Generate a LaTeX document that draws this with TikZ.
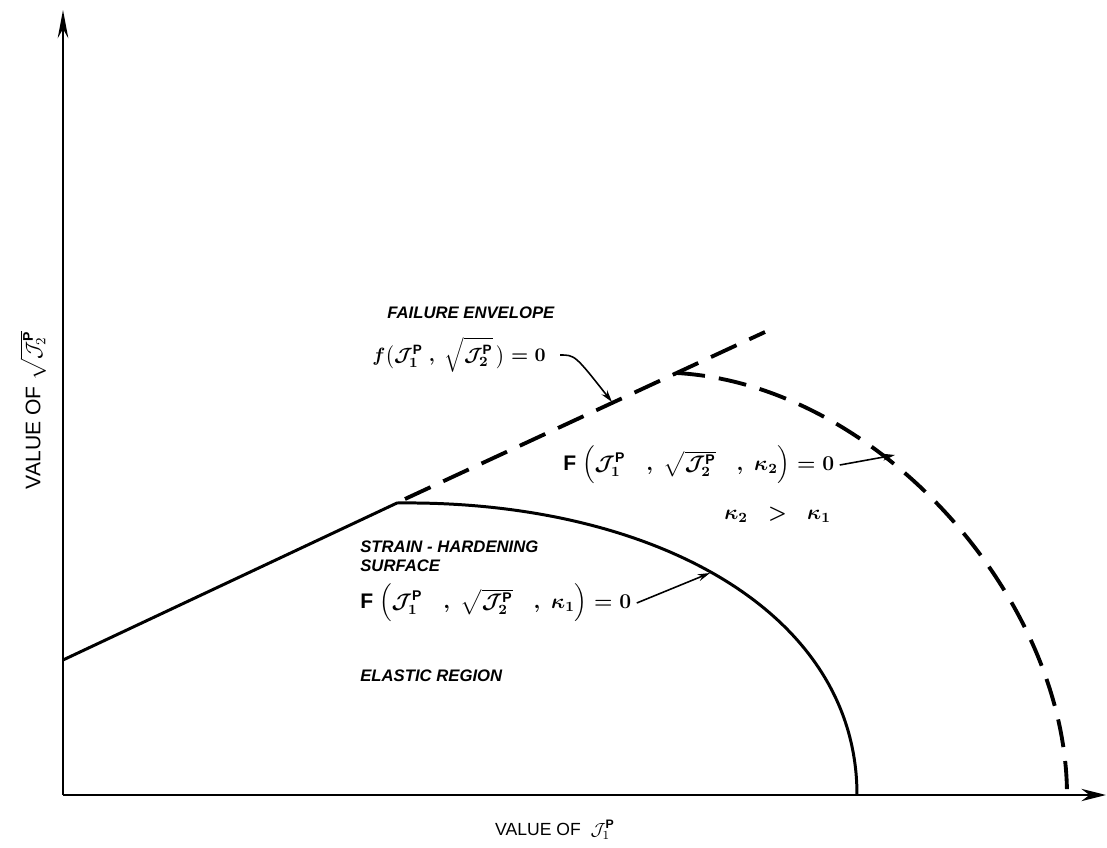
\documentclass[tikz,border=0pt]{standalone}
\usepackage{amsmath}
\usepackage{fontspec}
\setsansfont{Liberation Sans}
\usetikzlibrary{arrows.meta}
\newcommand{\Jc}{\mathcal{J}}
\newcommand{\Pp}{\textsf{\bfseries P}}
\tikzset{
  curve/.style={line width=1.7pt},
  dcurve/.style={line width=2.2pt, dash pattern=on 16pt off 8pt},
  axis/.style={line width=1.3pt},
  lab/.style={font=\sffamily\itshape\bfseries\fontsize{9.5}{12}\selectfont, anchor=west, inner sep=0pt, align=left},
  eq/.style={font=\sffamily\bfseries\boldmath\fontsize{12}{14}\selectfont, anchor=west, inner sep=0pt},
  pointer/.style={line width=0.9pt, -{Stealth[length=7pt,width=4pt]}}
}
\begin{document}
\begin{tikzpicture}[x=0.02cm,y=-0.02cm]
\useasboundingbox (0,0) rectangle (1107,848);
% axes
\coordinate (O) at (63,795);
\coordinate (ytop) at (63,10);
\coordinate (xend) at (1106,795);
\draw[axis,-{Stealth[length=16pt,width=6pt]}] (O) -- (ytop);
\draw[axis,-{Stealth[length=14pt,width=7pt]}] (O) -- (xend);
% solid strain-hardening surface
\coordinate (s0) at (63,660);
\coordinate (s1) at (397,503);
\coordinate (s2) at (857,795);
\draw[curve, line join=round] (s0) -- (s1) .. controls (650,500) and (857,610) .. (s2);
% failure envelope dashed
\coordinate (d0) at (405,499);
\coordinate (dv) at (677,373);
\coordinate (d1) at (765,332);
\draw[dcurve] (d0) -- (d1);
\coordinate (c2) at (1067,795);
\draw[dcurve] (dv) .. controls (880,385) and (1067,600) .. (c2);
% labels
\node[lab] (fe) at (387,313) {FAILURE ENVELOPE};
\node[eq, font=\sffamily\bfseries\boldmath\fontsize{11}{13}\selectfont] (feq) at (372,355) {$f\bigl(\Jc_1^{\Pp}\;,\;\sqrt{\Jc_2^{\Pp}}\,\bigr)=0$};
\node[eq] (f2) at (563,465) {F\;$\Bigl(\Jc_1^{\Pp}\quad,\;\sqrt{\Jc_2^{\Pp}}\quad,\;\kappa_2\Bigr)=0$};
\node[eq] (kk) at (724,515) {$\kappa_2\;\;>\;\;\kappa_1$};
\node[lab] (sh) at (360,556) {STRAIN - HARDENING\\[-1pt]SURFACE};
\node[eq] (f1) at (360,603) {F\;$\Bigl(\Jc_1^{\Pp}\quad,\;\sqrt{\Jc_2^{\Pp}}\quad,\;\kappa_1\Bigr)=0$};
\node[lab] (el) at (360,676) {ELASTIC REGION};
\node[eq, font=\sffamily\fontsize{10}{12}\selectfont, anchor=center] (xl) at (555,830) {VALUE OF\;\;$\Jc_1^{\Pp}$};
\node[eq, font=\sffamily\fontsize{12}{14}\selectfont, anchor=center, rotate=90] (yl) at (33,410) {VALUE OF\;$\sqrt{\Jc_2^{\Pp}}$};
% pointers
\coordinate (pfe) at (612,402);
\coordinate (pf2) at (895,455);
\coordinate (pf1) at (710,573);
\draw[pointer] ([xshift=8pt]feq.east) .. controls (575,355) .. (pfe);
\draw[pointer] ([xshift=3pt]f2.east) -- (pf2);
\draw[pointer] ([xshift=3pt]f1.east) -- (pf1);
\end{tikzpicture}
\end{document}
